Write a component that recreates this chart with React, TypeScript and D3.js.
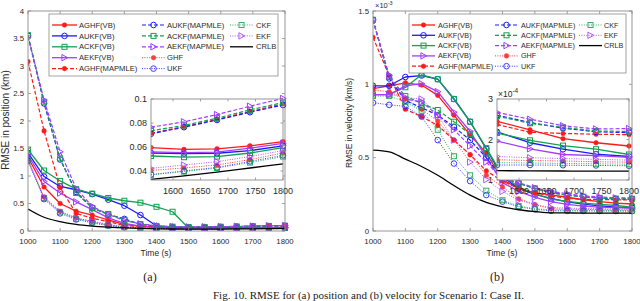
import React from 'react';
import * as d3 from 'd3';

// ---------------- data ----------------
const TIME = [1000, 1050, 1100, 1150, 1200, 1250, 1300, 1350, 1400, 1450, 1500, 1550, 1600, 1650, 1700, 1750, 1800];
const INSET_TIME = [1560, 1620, 1680, 1740, 1800];
const X_TICKS = [1000, 1100, 1200, 1300, 1400, 1500, 1600, 1700, 1800];
const INSET_X_TICKS = [1600, 1650, 1700, 1750, 1800];
const POS_Y_TICKS = [0, 0.5, 1, 1.5, 2, 2.5, 3, 3.5, 4];
const POS_INSET_Y_TICKS = [0.04, 0.06, 0.08, 0.1];
const VEL_Y_TICKS = [0, 0.5, 1, 1.5]; // x 1e-3
const VEL_INSET_Y_TICKS = [1, 2, 3]; // x 1e-4

const SERIES_NAMES = ['AGHF(VB)', 'AUKF(VB)', 'ACKF(VB)', 'AEKF(VB)', 'AGHF(MAPMLE)', 'AUKF(MAPMLE)', 'ACKF(MAPMLE)', 'AEKF(MAPMLE)', 'GHF', 'UKF', 'CKF', 'EKF', 'CRLB'];

// (a) RMSE in position (km)
const posAGHFvb = [1.34, 0.8, 0.5, 0.36, 0.29, 0.2, 0.12, 0.085, 0.068, 0.062, 0.06, 0.059, 0.058, 0.0585, 0.06, 0.062, 0.0645];
const posAUKFvb = [1.42, 0.99, 0.81, 0.75, 0.67, 0.57, 0.46, 0.29, 0.09, 0.065, 0.058, 0.055, 0.0545, 0.0545, 0.0555, 0.058, 0.061];
const posACKFvb = [1.48, 1.1, 0.91, 0.76, 0.68, 0.6, 0.55, 0.515, 0.44, 0.35, 0.05, 0.052, 0.0515, 0.0518, 0.053, 0.056, 0.0595];
const posAEKFvb = [1.38, 0.9, 0.69, 0.53, 0.39, 0.24, 0.14, 0.09, 0.07, 0.062, 0.058, 0.056, 0.0552, 0.0555, 0.057, 0.06, 0.063];
const posAGHFmap = [3.08, 1.82, 0.79, 0.32, 0.23, 0.17, 0.1, 0.08, 0.07, 0.068, 0.068, 0.071, 0.075, 0.08, 0.086, 0.091, 0.096];
const posAUKFmap = [3.55, 2.32, 1.3, 0.71, 0.42, 0.3, 0.22, 0.12, 0.09, 0.075, 0.07, 0.0705, 0.075, 0.08, 0.085, 0.09, 0.095];
const posACKFmap = [3.56, 2.35, 1.32, 0.69, 0.42, 0.31, 0.2, 0.125, 0.09, 0.078, 0.073, 0.0735, 0.077, 0.0815, 0.087, 0.092, 0.097];
const posAEKFmap = [3.53, 2.38, 1.44, 0.77, 0.45, 0.3, 0.19, 0.13, 0.095, 0.08, 0.076, 0.0765, 0.08, 0.085, 0.09, 0.095, 0.1005];
const posGHF = [1.3, 0.62, 0.36, 0.24, 0.17, 0.11, 0.075, 0.055, 0.046, 0.042, 0.04, 0.04, 0.041, 0.0435, 0.046, 0.05, 0.055];
const posUKF = [1.27, 0.58, 0.32, 0.21, 0.15, 0.095, 0.068, 0.05, 0.042, 0.038, 0.037, 0.037, 0.039, 0.042, 0.045, 0.049, 0.053];
const posCKF = [1.29, 0.6, 0.34, 0.22, 0.16, 0.1, 0.07, 0.05, 0.042, 0.038, 0.0365, 0.0365, 0.0385, 0.0415, 0.0445, 0.048, 0.052];
const posEKF = [1.28, 0.6, 0.35, 0.23, 0.18, 0.12, 0.08, 0.058, 0.048, 0.044, 0.042, 0.042, 0.044, 0.047, 0.0495, 0.053, 0.057];
const posCRLB = [0.4, 0.25, 0.17, 0.12, 0.09, 0.07, 0.055, 0.046, 0.04, 0.036, 0.034, 0.033, 0.0345, 0.037, 0.04, 0.043, 0.046];

// (a) inset
const insPosAGHFvb = [0.0595, 0.058, 0.0585, 0.061, 0.0645];
const insPosAUKFvb = [0.055, 0.0545, 0.0548, 0.057, 0.061];
const insPosACKFvb = [0.0525, 0.0515, 0.052, 0.055, 0.0595];
const insPosAEKFvb = [0.056, 0.0553, 0.0558, 0.059, 0.063];
const insPosAGHFmap = [0.0715, 0.077, 0.083, 0.0895, 0.096];
const insPosAUKFmap = [0.071, 0.0765, 0.0825, 0.089, 0.095];
const insPosACKFmap = [0.0735, 0.078, 0.084, 0.091, 0.097];
const insPosAEKFmap = [0.0765, 0.081, 0.087, 0.094, 0.1005];
const insPosGHF = [0.0405, 0.0425, 0.045, 0.0495, 0.055];
const insPosUKF = [0.037, 0.04, 0.043, 0.048, 0.053];
const insPosCKF = [0.0368, 0.0395, 0.0425, 0.047, 0.052];
const insPosEKF = [0.0422, 0.045, 0.0478, 0.052, 0.057];
const insPosCRLB = [0.033, 0.036, 0.039, 0.0425, 0.046];

// (b) RMSE in velocity (x 1e-3 km/s)
const velAGHFvb = [0.97, 0.99, 1.01, 0.995, 0.925, 0.79, 0.655, 0.53, 0.35, 0.29, 0.26, 0.247, 0.23, 0.213, 0.2, 0.19, 0.184];
const velAUKFvb = [0.99, 0.99, 1.05, 1.06, 1.035, 0.9, 0.745, 0.56, 0.37, 0.29, 0.25, 0.222, 0.198, 0.183, 0.172, 0.163, 0.158];
const velACKFvb = [0.93, 0.93, 0.98, 1.065, 1.035, 0.9, 0.745, 0.565, 0.38, 0.3, 0.255, 0.218, 0.202, 0.19, 0.182, 0.174, 0.163];
const velAEKFvb = [0.93, 0.93, 0.99, 1.005, 0.95, 0.81, 0.68, 0.5, 0.33, 0.27, 0.23, 0.2, 0.182, 0.17, 0.163, 0.16, 0.156];
const velAGHFmap = [1.32, 1.06, 0.83, 0.78, 0.72, 0.62, 0.52, 0.41, 0.34, 0.29, 0.26, 0.24, 0.222, 0.216, 0.214, 0.213, 0.212];
const velAUKFmap = [1.44, 1.04, 0.89, 0.84, 0.79, 0.71, 0.62, 0.5, 0.36, 0.325, 0.29, 0.262, 0.245, 0.233, 0.224, 0.219, 0.217];
const velACKFmap = [1.44, 1.05, 0.92, 0.87, 0.825, 0.745, 0.66, 0.53, 0.37, 0.325, 0.29, 0.26, 0.244, 0.234, 0.226, 0.221, 0.22];
const velAEKFmap = [1.44, 1.06, 0.9, 0.88, 0.79, 0.69, 0.58, 0.47, 0.35, 0.33, 0.295, 0.27, 0.254, 0.24, 0.232, 0.226, 0.227];
const velGHF = [0.96, 0.95, 0.9, 0.83, 0.75, 0.62, 0.52, 0.38, 0.3, 0.22, 0.18, 0.151, 0.149, 0.147, 0.146, 0.145, 0.144];
const velUKF = [0.875, 0.86, 0.85, 0.78, 0.62, 0.46, 0.34, 0.245, 0.2, 0.165, 0.148, 0.138, 0.137, 0.137, 0.136, 0.136, 0.135];
const velCKF = [0.92, 0.92, 0.88, 0.82, 0.69, 0.51, 0.38, 0.275, 0.21, 0.17, 0.152, 0.144, 0.142, 0.141, 0.141, 0.14, 0.139];
const velEKF = [0.93, 0.93, 0.91, 0.9, 0.79, 0.62, 0.47, 0.35, 0.27, 0.21, 0.18, 0.16, 0.156, 0.154, 0.152, 0.151, 0.149];
const velCRLB = [0.552, 0.54, 0.49, 0.44, 0.38, 0.31, 0.245, 0.195, 0.165, 0.145, 0.133, 0.124, 0.123, 0.122, 0.122, 0.122, 0.122];

// (b) inset (x 1e-4 km/s)
const insVelAGHFvb = [2.45, 2.24, 2.02, 1.92, 1.84];
const insVelAUKFvb = [2.19, 1.92, 1.76, 1.64, 1.58];
const insVelACKFvb = [2.16, 1.98, 1.85, 1.76, 1.63];
const insVelAEKFvb = [1.96, 1.77, 1.63, 1.6, 1.56];
const insVelAGHFmap = [2.37, 2.18, 2.15, 2.13, 2.12];
const insVelAUKFmap = [2.6, 2.42, 2.28, 2.19, 2.17];
const insVelACKFmap = [2.58, 2.4, 2.3, 2.21, 2.2];
const insVelAEKFmap = [2.67, 2.5, 2.34, 2.26, 2.27];
const insVelGHF = [1.5, 1.48, 1.47, 1.45, 1.44];
const insVelUKF = [1.37, 1.37, 1.365, 1.36, 1.35];
const insVelCKF = [1.43, 1.42, 1.41, 1.4, 1.39];
const insVelEKF = [1.58, 1.55, 1.53, 1.51, 1.49];
const insVelCRLB = [1.23, 1.225, 1.222, 1.22, 1.22];

const POS = [posAGHFvb, posAUKFvb, posACKFvb, posAEKFvb, posAGHFmap, posAUKFmap, posACKFmap, posAEKFmap, posGHF, posUKF, posCKF, posEKF, posCRLB];
const POS_INSET = [insPosAGHFvb, insPosAUKFvb, insPosACKFvb, insPosAEKFvb, insPosAGHFmap, insPosAUKFmap, insPosACKFmap, insPosAEKFmap, insPosGHF, insPosUKF, insPosCKF, insPosEKF, insPosCRLB];
const VEL = [velAGHFvb, velAUKFvb, velACKFvb, velAEKFvb, velAGHFmap, velAUKFmap, velACKFmap, velAEKFmap, velGHF, velUKF, velCKF, velEKF, velCRLB];
const VEL_INSET = [insVelAGHFvb, insVelAUKFvb, insVelACKFvb, insVelAEKFvb, insVelAGHFmap, insVelAUKFmap, insVelACKFmap, insVelAEKFmap, insVelGHF, insVelUKF, insVelCKF, insVelEKF, insVelCRLB];

// ---------------- styles ----------------
const RED = '#ff1a1a';
const BLUE = '#1a1aff';
const GREEN = '#14a050';
const PURPLE = '#a33cff';
type Marker = 'dot' | 'circle' | 'square' | 'tri' | 'none';
interface Style { color: string; dash: string | null; marker: Marker; w: number; op: number }
const SOLID = null, DASH = '4,2', DOT = '1,1.4';
const STYLES: Style[] = [
  { color: RED, dash: SOLID, marker: 'dot', w: 1.3, op: 1 },
  { color: BLUE, dash: SOLID, marker: 'circle', w: 1.3, op: 1 },
  { color: GREEN, dash: SOLID, marker: 'square', w: 1.3, op: 1 },
  { color: PURPLE, dash: SOLID, marker: 'tri', w: 1.3, op: 1 },
  { color: RED, dash: DASH, marker: 'dot', w: 1.2, op: 1 },
  { color: BLUE, dash: DASH, marker: 'circle', w: 1.2, op: 1 },
  { color: GREEN, dash: DASH, marker: 'square', w: 1.2, op: 1 },
  { color: PURPLE, dash: DASH, marker: 'tri', w: 1.2, op: 1 },
  { color: RED, dash: DOT, marker: 'dot', w: 1, op: 0.85 },
  { color: BLUE, dash: DOT, marker: 'circle', w: 1, op: 0.85 },
  { color: GREEN, dash: DOT, marker: 'square', w: 1, op: 0.85 },
  { color: PURPLE, dash: DOT, marker: 'tri', w: 1, op: 0.85 },
  { color: '#000', dash: SOLID, marker: 'none', w: 1.3, op: 1 },
];

const FRAME = '#8c8c8c';
const TXT = '#2a2a2a';
const SANS = "'Liberation Sans', Arial, Helvetica, sans-serif";
const SERIF = "'Liberation Serif', 'Times New Roman', serif";

function MarkerEl({ m, x, y, color }: { m: Marker; x: number; y: number; color: string }) {
  if (m === 'dot') return <circle cx={x} cy={y} r={2.3} fill={color} stroke={color} strokeWidth={0.5} />;
  if (m === 'circle') return <circle cx={x} cy={y} r={2.8} fill="none" stroke={color} strokeWidth={1} />;
  if (m === 'square') return <rect x={x - 2.5} y={y - 2.5} width={5} height={5} fill="none" stroke={color} strokeWidth={1} />;
  if (m === 'tri') return <path d={`M${x - 2.6},${y - 3.2}L${x - 2.6},${y + 3.2}L${x + 3.2},${y}Z`} fill="none" stroke={color} strokeWidth={1} />;
  return null;
}

interface Box { l: number; r: number; t: number; b: number }

function Axes(props: {
  id: string; box: Box; xDomain: [number, number]; yDomain: [number, number]; xs: number[]; data: number[][];
  xTicks: number[]; yTicks: number[]; yFmt: (v: number) => string; fs: number; tick: number; xLabDy: number; bg?: boolean;
}) {
  const { id, box, xDomain, yDomain, xs, data, xTicks, yTicks, yFmt, fs, tick, xLabDy, bg } = props;
  const x = d3.scaleLinear().domain(xDomain).range([box.l, box.r]);
  const y = d3.scaleLinear().domain(yDomain).range([box.b, box.t]);
  const line = d3.line<number>().x((_, i) => x(xs[i])).y((d) => y(d));
  const smooth = d3.line<number>().x((_, i) => x(xs[i])).y((d) => y(d)).curve(d3.curveMonotoneX);
  return (
    <g>
      <defs>
        <clipPath id={id}><rect x={box.l} y={box.t - 4} width={box.r - box.l + 4} height={box.b - box.t + 4} /></clipPath>
      </defs>
      {bg && <rect x={box.l} y={box.t} width={box.r - box.l} height={box.b - box.t} fill="#fff" />}
      <g clipPath={`url(#${id})`}>
        {data.map((s, si) => {
          const st = STYLES[si];
          return (
            <g key={si} opacity={st.op}>
              <path d={(st.marker === 'none' ? smooth : line)(s) || ''} fill="none" stroke={st.color} strokeWidth={st.w}
                strokeDasharray={st.dash || undefined} strokeLinejoin="round" />
              {s.map((v, i) => <MarkerEl key={i} m={st.marker} x={x(xs[i])} y={y(v)} color={st.color} />)}
            </g>
          );
        })}
      </g>
      <rect x={box.l} y={box.t} width={box.r - box.l} height={box.b - box.t} fill="none" stroke={FRAME} strokeWidth={0.9} />
      {xTicks.map((t) => (
        <g key={'x' + t}>
          <line x1={x(t)} x2={x(t)} y1={box.b} y2={box.b - tick} stroke={FRAME} strokeWidth={0.8} />
          <line x1={x(t)} x2={x(t)} y1={box.t} y2={box.t + tick} stroke={FRAME} strokeWidth={0.8} />
          <text x={x(t)} y={box.b + xLabDy} fontSize={fs} textAnchor="middle" fill={TXT} fontFamily={SANS}>{t}</text>
        </g>
      ))}
      {yTicks.map((t) => (
        <g key={'y' + t}>
          <line x1={box.l} x2={box.l + tick} y1={y(t)} y2={y(t)} stroke={FRAME} strokeWidth={0.8} />
          <line x1={box.r} x2={box.r - tick} y1={y(t)} y2={y(t)} stroke={FRAME} strokeWidth={0.8} />
          <text x={box.l - 4} y={y(t)} dy="0.35em" fontSize={fs} textAnchor="end" fill={TXT} fontFamily={SANS}>{yFmt(t)}</text>
        </g>
      ))}
    </g>
  );
}

function Legend(props: { box: Box; rows: number[]; cols: { a: number; b: number; tx: number }[]; fs: number }) {
  const { box, rows, cols, fs } = props;
  return (
    <g>
      <rect x={box.l} y={box.t} width={box.r - box.l} height={box.b - box.t} fill="#fff" stroke={FRAME} strokeWidth={0.8} />
      {SERIES_NAMES.map((name, i) => {
        const c = cols[Math.floor(i / 5)];
        const ry = rows[i % 5];
        const st = STYLES[i];
        return (
          <g key={name}>
            <g opacity={st.op}>
              <line x1={c.a} x2={c.b} y1={ry} y2={ry} stroke={st.color} strokeWidth={st.w} strokeDasharray={st.dash || undefined} />
              <MarkerEl m={st.marker} x={(c.a + c.b) / 2} y={ry} color={st.color} />
            </g>
            <text x={c.tx} y={ry} dy="0.35em" fontSize={fs} fill={TXT} fontFamily={SANS}>{name}</text>
          </g>
        );
      })}
    </g>
  );
}

const fmt = (v: number) => String(v);

export default function App() {
  const leftBox: Box = { l: 28, r: 285, t: 11, b: 231 };
  const rightBox: Box = { l: 373, r: 632, t: 11, b: 231 };
  const leftInset: Box = { l: 151, r: 283, t: 99, b: 180 };
  const rightInset: Box = { l: 497, r: 629, t: 99, b: 180 };
  return (
    <svg width={640} height={301} style={{ position: 'absolute', left: 0, top: 0 }}>
      <rect width={640} height={301} fill="#fff" />
      {/* panel (a) */}
      <Axes id="ca" box={leftBox} xDomain={[1000, 1800]} yDomain={[0, 4]} xs={TIME} data={POS} xTicks={X_TICKS}
        yTicks={POS_Y_TICKS} yFmt={fmt} fs={7.8} tick={3} xLabDy={13} />
      <Legend box={{ l: 49, r: 278, t: 14, b: 76 }} rows={[25, 35.9, 46.8, 57.7, 68.6]}
        cols={[{ a: 52, b: 77, tx: 79 }, { a: 142, b: 165, tx: 167 }, { a: 230, b: 253, tx: 256 }]} fs={7.6} />
      <Axes id="cai" box={leftInset} xDomain={[1560, 1800]} yDomain={[0.0325, 0.1]} xs={INSET_TIME} data={POS_INSET}
        xTicks={INSET_X_TICKS} yTicks={POS_INSET_Y_TICKS} yFmt={fmt} fs={9} tick={2.5} xLabDy={14} bg />
      <text x={156} y={256} fontSize={8.5} textAnchor="middle" fill={TXT} fontFamily={SANS}>Time (s)</text>
      <text transform="translate(9,120) rotate(-90)" fontSize={10} textAnchor="middle" fill={TXT} fontFamily={SANS}>RMSE in position (km)</text>

      {/* panel (b) */}
      <Axes id="cb" box={rightBox} xDomain={[1000, 1800]} yDomain={[0, 1.5]} xs={TIME} data={VEL} xTicks={X_TICKS}
        yTicks={VEL_Y_TICKS} yFmt={fmt} fs={7.8} tick={3} xLabDy={13} />
      <text x={375} y={8} fontSize={7.5} fill={TXT} fontFamily={SANS}>×10<tspan dy={-3} fontSize={5.5}>-3</tspan></text>
      <Legend box={{ l: 409, r: 626, t: 14, b: 73 }} rows={[25, 35.3, 45.6, 55.9, 66.2]}
        cols={[{ a: 412, b: 435, tx: 438 }, { a: 495, b: 518, tx: 521 }, { a: 579, b: 602, tx: 604 }]} fs={7.2} />
      <Axes id="cbi" box={rightInset} xDomain={[1560, 1800]} yDomain={[1, 3]} xs={INSET_TIME} data={VEL_INSET}
        xTicks={INSET_X_TICKS} yTicks={VEL_INSET_Y_TICKS} yFmt={fmt} fs={9} tick={2.5} xLabDy={14} bg />
      <text x={498} y={97} fontSize={8.5} fill={TXT} fontFamily={SANS}>×10<tspan dy={-4} fontSize={6.5}>-4</tspan></text>
      <text x={502} y={256} fontSize={8.5} textAnchor="middle" fill={TXT} fontFamily={SANS}>Time (s)</text>
      <text transform="translate(352,123) rotate(-90)" fontSize={8.5} textAnchor="middle" fill={TXT} fontFamily={SANS}>RMSE in velocity (km/s)</text>

      {/* captions */}
      <text x={150} y={281} fontSize={12} textAnchor="middle" fill="#222" fontFamily={SERIF}>(a)</text>
      <text x={497} y={281} fontSize={12} textAnchor="middle" fill="#222" fontFamily={SERIF}>(b)</text>
      <text x={213} y={299} fontSize={11} fill="#222" fontFamily={SERIF}>Fig. 10. RMSE for (a) position and (b) velocity for Scenario I: Case II.</text>
    </svg>
  );
}
